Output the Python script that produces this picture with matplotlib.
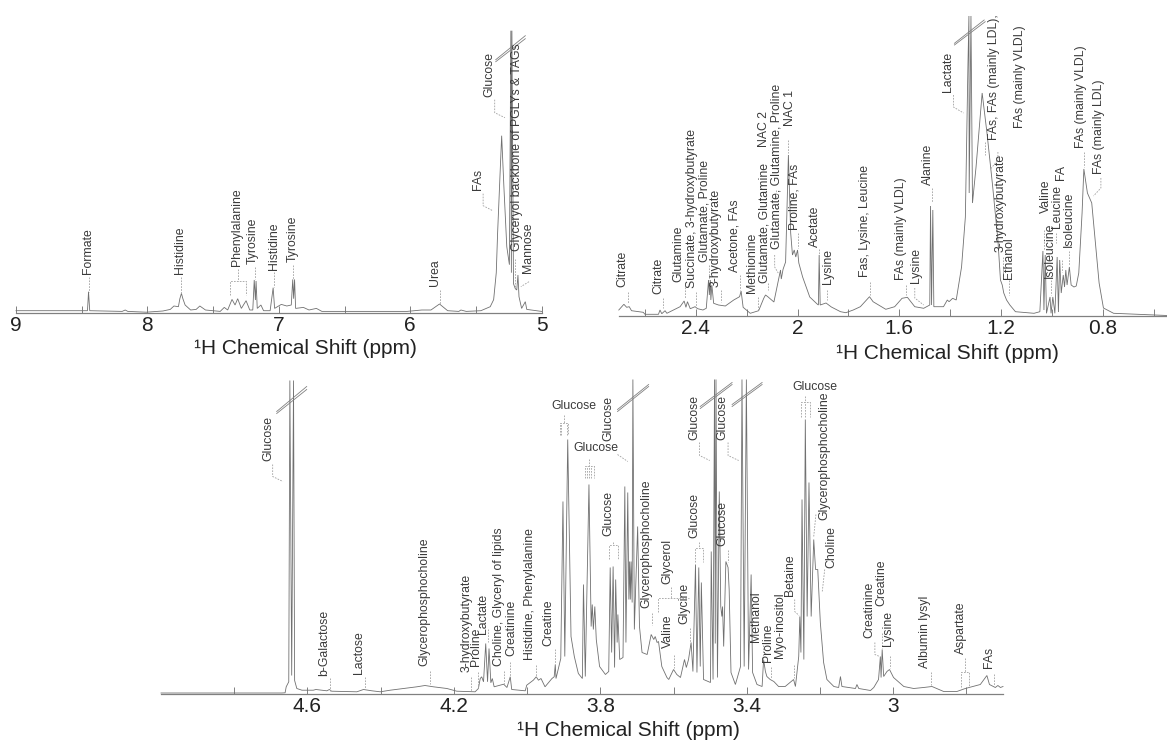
import matplotlib
matplotlib.use("Agg")
import numpy as np
import matplotlib.pyplot as plt

plt.rcParams['font.family'] = ['Liberation Sans', 'DejaVu Sans']

FIG_W, FIG_H = 1167, 740
XLABEL = "¹H Chemical Shift (ppm)"

# ---- top left panel, aromatic region ----
a_major = [9, 8, 7, 6, 5]
a_minor = [8.5, 7.5, 6.5, 5.5]
a_ticklabels = ["9", "8", "7", "6", "5"]
a_trace = [
    (9.0, 2), (8.501, 2), (8.456, 2), (8.448, 21), (8.439, 2), (8.192, 1.3), (8.169, 2.7), (8.149, 1.3),
    (8.009, 0.5), (7.882, 1.7), (7.826, 3.3), (7.798, 6.7), (7.764, 6), (7.753, 14), (7.741, 19.3), (7.73, 14),
    (7.713, 7.7), (7.671, 2.7), (7.629, 3.3), (7.601, 6.7), (7.558, 2.7), (7.446, 1.3), (7.415, 5.3), (7.389, 2.7),
    (7.356, 13.3), (7.333, 7.7), (7.313, 14), (7.285, 4.3), (7.249, 12), (7.221, 2.7), (7.198, 2.7), (7.187, 32.7),
    (7.178, 12.7), (7.173, 31.7), (7.164, 4.3), (7.136, 7.7), (7.116, 2), (7.066, 2), (7.043, 25), (7.032, 4.3),
    (6.981, 8.3), (6.939, 6.7), (6.905, 7.7), (6.894, 33.3), (6.887, 14), (6.88, 33.3), (6.872, 4.3), (6.813, 5.3),
    (6.77, 2.7), (6.714, 4.3), (6.672, 1.3), (6.024, 1.3), (5.912, 2.7), (5.842, 2.7), (5.777, 8.7), (5.715, 2),
    (5.63, 1.3), (5.614, 2.7), (5.574, 1.3), (5.462, 2), (5.391, 6), (5.365, 13), (5.345, 40), (5.335, 79),
    (5.304, 177), (5.287, 126), (5.265, 66), (5.245, 48), (5.234, 282), (5.23, 40), (5.226, 282), (5.214, 29),
    (5.2, 24), (5.189, 22.7), (5.18, 37.7), (5.172, 16), (5.152, 4.3), (5.124, 11), (5.113, 3.3), (5.0, 1.3),
]
a_labels = [
    ("Formate", 8.453, 39), ("Histidine", 7.753, 39), ("Phenylalanine", 7.319, 47), ("Tyrosine", 7.195, 49),
    ("Histidine", 7.038, 43), ("Tyrosine", 6.894, 51), ("Urea", 5.811, 27), ("FAs", 5.484, 123),
    ("Glucose", 5.397, 216), ("Glyceryol backbone of PGLYs & TAGs", 5.19, 62), ("Mannose", 5.1, 40),
]
a_leaders = [
    [(8.448, 36), (8.448, 21)], [(7.741, 36), (7.741, 19)], [(7.313, 44), (7.313, 32)],
    [(7.37, 18), (7.37, 32), (7.249, 32), (7.249, 18)], [(7.184, 46), (7.184, 34)], [(7.038, 41), (7.038, 26)],
    [(6.894, 48), (6.894, 34)], [(5.777, 23), (5.777, 9)], [(5.445, 119), (5.445, 107), (5.372, 102)],
    [(5.357, 213), (5.357, 200), (5.279, 195)], [(5.2, 54), (5.2, 26)], [(5.096, 31), (5.158, 26)],
]
a_breaks = [[(5.349, 253), (5.124, 277)], [(5.349, 251), (5.124, 274)]]

# ---- top right panel, aliphatic region ----
b_major = [2.4, 2.0, 1.6, 1.2, 0.8]
b_minor = [2.6, 2.2, 1.8, 1.4, 1.0, 0.6]
b_ticklabels = ["2.4", "2", "1.6", "1.2", "0.8"]
b_trace = [
    (2.703, 6), (2.683, 11.7), (2.672, 8.7), (2.662, 9.3), (2.653, 5.3), (2.607, 3.7), (2.6, 1.7), (2.547, 1.7),
    (2.541, 6), (2.534, 2.3), (2.521, 5.3), (2.514, 2.7), (2.488, 6), (2.462, 9.3), (2.446, 15), (2.439, 8.7),
    (2.433, 14.3), (2.422, 7.3), (2.403, 9.3), (2.393, 7.3), (2.372, 6), (2.359, 7.7), (2.35, 36), (2.347, 21),
    (2.343, 36), (2.341, 16), (2.337, 31), (2.33, 12.7), (2.311, 11), (2.284, 10), (2.251, 16), (2.228, 19.3),
    (2.222, 25), (2.214, 8.7), (2.186, 2.7), (2.153, 5.3), (2.133, 17.7), (2.126, 21), (2.117, 19.3), (2.093, 14),
    (2.067, 46), (2.064, 37), (2.057, 46.7), (2.047, 54), (2.036, 161), (2.027, 83), (2.02, 61), (2.013, 66),
    (2.007, 59), (2.0, 66), (1.995, 53), (1.98, 39), (1.952, 19), (1.923, 12), (1.918, 11), (1.915, 61),
    (1.911, 11), (1.888, 13), (1.867, 9), (1.831, 4.3), (1.81, 3.3), (1.781, 6), (1.753, 9.3), (1.717, 19.3),
    (1.703, 14.3), (1.653, 6.7), (1.618, 9.3), (1.589, 17.7), (1.568, 18.7), (1.539, 9.3), (1.504, 7.7), (1.48, 11),
    (1.477, 110), (1.473, 11), (1.468, 106), (1.464, 9.3), (1.426, 9.3), (1.411, 16), (1.404, 14.3), (1.39, 17.7),
    (1.376, 16), (1.355, 49), (1.34, 99), (1.33, 249), (1.326, 300), (1.325, 123), (1.318, 300), (1.312, 113),
    (1.298, 149), (1.274, 223), (1.255, 183), (1.234, 133), (1.212, 76), (1.202, 36), (1.195, 31), (1.189, 23),
    (1.178, 16), (1.165, 11), (1.143, 4.3), (1.07, 2.7), (1.047, 4.3), (1.035, 65), (1.031, 6), (1.026, 61),
    (1.021, 2.7), (1.007, 19), (1.003, 2.7), (0.996, 19), (0.988, 2.7), (0.979, 59), (0.974, 4), (0.969, 56),
    (0.963, 23), (0.955, 41), (0.95, 29), (0.945, 46), (0.94, 31), (0.931, 49), (0.924, 31), (0.913, 29),
    (0.904, 30), (0.894, 43), (0.881, 103), (0.874, 147), (0.86, 123), (0.843, 113), (0.814, 33), (0.797, 8),
    (0.757, 2.7), (0.547, 0.5),
]
b_labels = [
    ("Citrate", 2.689, 29), ("Citrate", 2.549, 22), ("Glutamine", 2.467, 34),
    ("Succinate, 3-hydroxybutyrate", 2.414, 28), ("Glutamate, Proline", 2.364, 54), ("3-hydroxybutyrate", 2.322, 29),
    ("Acetone, FAs", 2.248, 44), ("Methionine", 2.178, 23), ("Glutamate, Glutamine", 2.13, 33),
    ("Glutamate, Glutamine, Proline", 2.082, 67), ("NAC 2", 2.133, 169), ("NAC 1", 2.03, 190),
    ("Proline, FAs", 2.012, 86), ("Acetate", 1.932, 69), ("Lysine", 1.881, 32), ("Fas, Lysine, Leucine", 1.734, 39),
    ("FAs (mainly VLDL)", 1.594, 36), ("Lysine", 1.535, 33), ("Alanine", 1.488, 131), ("Lactate", 1.407, 224),
    ("FAs, FAs (mainly LDL),", 1.227, 176), ("FAs (mainly VLDL)", 1.127, 188), ("3-hydroxybutyrate", 1.202, 64),
    ("Ethanol", 1.167, 37), ("Isoleucine", 1.009, 38), ("Valine", 1.022, 103), ("Leucine", 0.979, 88), ("FA", 0.964, 136),
    ("Isoleucine", 0.931, 69), ("FAs (mainly VLDL)", 0.885, 168), ("FAs (mainly LDL)", 0.814, 142),
]
b_leaders = [
    [(2.666, 24), (2.666, 13)], [(2.528, 18), (2.528, 8)], [(2.444, 29), (2.444, 18)], [(2.4, 24), (2.4, 9)],
    [(2.347, 51), (2.347, 36)], [(2.302, 26), (2.302, 14)], [(2.225, 41), (2.225, 26)], [(2.154, 19), (2.154, 6)],
    [(2.118, 33), (2.118, 26)], [(2.09, 61), (2.09, 49), (2.076, 43)], [(2.083, 126), (2.083, 119)],
    [(2.037, 176), (2.037, 163)], [(2.0, 83), (2.0, 68)], [(1.915, 67), (1.915, 53)], [(1.885, 26), (1.885, 16)],
    [(1.714, 34), (1.714, 21)], [(1.575, 31), (1.575, 21)], [(1.539, 28), (1.539, 18), (1.504, 11)],
    [(1.471, 128), (1.471, 114)], [(1.387, 221), (1.387, 209), (1.347, 203)], [(1.262, 174), (1.262, 161)],
    [(1.212, 164), (1.212, 156), (1.241, 147)], [(1.191, 59), (1.191, 36)], [(1.17, 36), (1.17, 21)],
    [(1.032, 86), (1.032, 66)], [(1.002, 36), (1.002, 21)], [(0.982, 83), (0.982, 73)], [(0.959, 56), (0.959, 44)],
    [(0.931, 65), (0.931, 51)], [(0.874, 164), (0.874, 149)], [(0.807, 138), (0.807, 128), (0.836, 120)],
]
b_breaks = [[(1.383, 272.7), (1.266, 296)], [(1.383, 271), (1.262, 294.3)]]

# ---- bottom panel ----
c_major = [4.6, 4.2, 3.8, 3.4, 3.0]
c_minor = [4.8, 4.4, 4.0, 3.6, 3.2, 2.8]
c_ticklabels = ["4.6", "4.2", "3.8", "3.4", "3"]
c_trace = [
    (5.0, 0.5), (4.67, 0.5), (4.661, 0.7), (4.658, 6.7), (4.651, 11.7), (4.648, 313), (4.643, 18), (4.638, 313),
    (4.635, 13), (4.629, 5), (4.615, 3.3), (4.584, 3.3), (4.577, 4), (4.547, 2.7), (4.54, 4), (4.534, 2.3),
    (4.465, 1.7), (4.447, 4), (4.424, 2.7), (4.401, 1.7), (4.374, 3.3), (4.338, 5), (4.301, 6.7), (4.279, 8),
    (4.256, 6.7), (4.219, 5), (4.192, 2.3), (4.142, 1.7), (4.133, 5), (4.128, 15), (4.124, 16.7), (4.119, 11.7),
    (4.113, 50), (4.108, 11.7), (4.104, 45), (4.099, 10.7), (4.095, 15), (4.09, 6.7), (4.064, 9.3), (4.055, 6),
    (4.046, 16.7), (4.042, 4), (4.005, 2.7), (4.001, 8.3), (3.983, 13.3), (3.975, 16.7), (3.969, 13.3), (3.962, 15),
    (3.951, 6.7), (3.932, 15), (3.926, 16.7), (3.923, 29), (3.921, 15), (3.908, 35), (3.902, 192), (3.897, 37),
    (3.889, 254), (3.88, 57), (3.871, 37), (3.86, 20), (3.849, 15), (3.846, 109), (3.841, 17), (3.831, 209),
    (3.825, 67), (3.822, 89), (3.819, 64), (3.815, 87), (3.811, 54), (3.802, 27), (3.786, 19), (3.777, 22),
    (3.773, 126), (3.769, 41), (3.765, 127), (3.761, 26), (3.758, 114), (3.754, 51), (3.752, 79), (3.747, 34),
    (3.738, 36), (3.733, 207), (3.73, 51), (3.725, 201), (3.722, 94), (3.72, 132), (3.718, 94), (3.716, 132),
    (3.713, 91), (3.711, 314), (3.707, 64), (3.698, 167), (3.693, 67), (3.686, 41), (3.672, 39), (3.661, 59),
    (3.654, 54), (3.65, 57), (3.645, 51), (3.641, 52), (3.632, 27), (3.618, 16), (3.613, 14), (3.6, 24),
    (3.591, 19), (3.581, 16), (3.57, 34), (3.565, 26), (3.559, 34), (3.552, 51), (3.547, 22), (3.54, 129),
    (3.536, 21), (3.531, 126), (3.527, 27), (3.524, 111), (3.518, 14), (3.499, 11), (3.497, 142), (3.492, 14),
    (3.488, 314), (3.486, 50), (3.484, 314), (3.48, 16), (3.475, 202), (3.471, 87), (3.468, 77), (3.466, 87),
    (3.463, 47), (3.457, 132), (3.451, 126), (3.448, 104), (3.443, 21), (3.431, 9), (3.417, 27), (3.413, 314),
    (3.407, 27), (3.401, 314), (3.395, 24), (3.388, 119), (3.384, 21), (3.372, 9), (3.358, 7), (3.354, 34),
    (3.349, 22), (3.345, 17), (3.336, 14), (3.326, 12), (3.313, 7), (3.295, 7), (3.272, 14), (3.267, 7),
    (3.258, 37), (3.255, 77), (3.252, 41), (3.249, 194), (3.244, 34), (3.24, 274), (3.235, 77), (3.23, 211),
    (3.224, 77), (3.217, 154), (3.212, 124), (3.206, 124), (3.199, 71), (3.19, 31), (3.181, 14), (3.162, 7),
    (3.149, 6), (3.144, 17), (3.14, 7), (3.103, 5), (3.099, 9), (3.094, 5), (3.062, 3), (3.053, 6),
    (3.04, 14), (3.035, 37), (3.033, 16), (3.03, 44), (3.026, 17), (3.017, 22), (3.01, 24), (2.999, 16),
    (2.971, 7), (2.944, 5), (2.917, 6), (2.894, 7), (2.862, 2), (2.826, 2), (2.803, 5), (2.762, 9),
    (2.744, 18), (2.737, 9), (2.721, 6), (2.714, 8), (2.707, 6), (2.7, 7),
]
c_labels = [
    ("Glucose", 4.708, 233), ("b-Galactose", 4.554, 18), ("Lactose", 4.458, 19), ("Glycerophosphocholine", 4.28, 27),
    ("3-hydroxybutyrate", 4.166, 21), ("Proline", 4.139, 28), ("Lactate", 4.121, 60),
    ("Choline, Glyceryl of lipids", 4.076, 27), ("Creatinine", 4.044, 37), ("Histidine, Phenylalanine", 3.992, 33),
    ("Creatine", 3.941, 48), ("Glucose", 3.777, 253), ("Glucose", 3.777, 158), ("Glycerophosphocholine", 3.674, 85),
    ("Valine", 3.614, 45), ("Glycerol", 3.617, 110), ("Glycine", 3.57, 70), ("Glucose", 3.543, 155),
    ("Glucose", 3.542, 254), ("Glucose", 3.466, 254), ("Glucose", 3.466, 148), ("Methanol", 3.376, 51),
    ("Proline", 3.341, 32), ("Myo-inositol", 3.31, 36), ("Betaine", 3.283, 98), ("Glycerophosphocholine", 3.188, 174),
    ("Choline", 3.169, 126), ("Creatinine", 3.065, 56), ("Creatine", 3.032, 87), ("Lysine", 3.014, 47),
    ("Albumin lysyl", 2.912, 25), ("Aspartate", 2.816, 39), ("FAs", 2.737, 25),
]
# these three are written flat above the doublets
c_flat_labels = [("Glucose", 3.873, 288), ("Glucose", 3.811, 246), ("Glucose", 3.215, 307)]
c_leaders = [
    [(4.695, 229), (4.695, 217), (4.667, 212)], [(4.538, 16), (4.538, 3)], [(4.442, 17), (4.442, 5)],
    [(4.265, 23), (4.265, 10)], [(4.154, 17), (4.154, 3)], [(4.133, 22), (4.133, 5)], [(4.108, 65), (4.108, 52)],
    [(4.062, 23), (4.062, 10)], [(4.046, 32), (4.046, 18)], [(3.976, 29), (3.976, 17)], [(3.925, 45), (3.925, 30)],
    [(3.9, 279), (3.9, 271)], [(3.911, 259), (3.911, 271), (3.887, 271), (3.887, 259)],
    [(3.907, 259), (3.907, 271)], [(3.89, 259), (3.89, 271)],
    [(3.83, 235), (3.83, 228)], [(3.843, 216), (3.843, 228), (3.818, 228), (3.818, 216)],
    [(3.836, 216), (3.836, 228)], [(3.83, 216), (3.83, 228)], [(3.825, 216), (3.825, 228)],
    [(3.753, 239), (3.725, 232)], [(3.764, 152), (3.764, 149)], [(3.775, 135), (3.775, 149), (3.752, 149), (3.752, 135)],
    [(3.659, 81), (3.659, 69)], [(3.606, 107), (3.606, 96)], [(3.643, 82), (3.643, 96), (3.559, 96)],
    [(3.6, 39), (3.6, 26)], [(3.554, 66), (3.554, 52)], [(3.53, 152), (3.53, 146)],
    [(3.54, 132), (3.54, 146), (3.519, 146), (3.519, 132)], [(3.529, 251), (3.529, 238), (3.501, 233)],
    [(3.451, 251), (3.451, 238), (3.422, 233)], [(3.451, 144), (3.451, 132)], [(3.356, 49), (3.356, 34)],
    [(3.333, 27), (3.333, 16)], [(3.272, 29), (3.272, 16)], [(3.269, 94), (3.269, 82), (3.257, 78)],
    [(3.24, 298), (3.24, 292)], [(3.252, 277), (3.252, 292), (3.228, 292), (3.228, 277)], [(3.24, 277), (3.24, 292)],
    [(3.211, 179), (3.217, 157)], [(3.187, 124), (3.194, 101)], [(3.05, 51), (3.05, 39), (3.037, 37)],
    [(3.03, 61), (3.03, 46)], [(3.01, 38), (3.01, 26)], [(2.898, 22), (2.898, 9)], [(2.803, 36), (2.803, 22)],
    [(2.816, 7), (2.816, 22), (2.794, 22), (2.794, 7)], [(2.724, 20), (2.724, 9)],
]
c_breaks = [
    [(4.684, 282), (4.602, 307)], [(4.684, 280), (4.602, 304)],
    [(3.753, 284), (3.668, 309)], [(3.753, 282), (3.668, 307)],
    [(3.527, 287), (3.44, 311)], [(3.527, 285), (3.44, 309)],
    [(3.44, 289), (3.358, 311)], [(3.44, 287), (3.358, 309)],
]


def panel_axes(fig, left, right, baseline, top, x_left, x_right):
    """Axes placed by pixel box, y runs in pixels above the baseline."""
    ax = fig.add_axes([left / FIG_W, 1 - baseline / FIG_H, (right - left) / FIG_W, (baseline - top) / FIG_H])
    ax.set_xlim(x_left, x_right)
    ax.set_ylim(0, baseline - top)
    ax.patch.set_alpha(0)
    for side in ['top', 'left', 'right']:
        ax.spines[side].set_visible(False)
    ax.spines['bottom'].set_color('#808080')
    ax.spines['bottom'].set_linewidth(0.9)
    ax.set_yticks([])
    return ax


def draw_panel(ax, trace, labels, leaders, breaks, major, minor, ticklabels, xlabel_frac, xlabel_drop):
    ppm, height = np.array(trace).T
    ax.plot(ppm, height, color='#707070', lw=0.6, clip_on=False, solid_joinstyle='miter')

    for points in leaders:
        xs, ys = zip(*points)
        ax.plot(xs, ys, color='#a0a0a0', lw=0.6, ls=(0, (2, 1.5)), clip_on=False)
    for points in breaks:
        xs, ys = zip(*points)
        ax.plot(xs, ys, color='#808080', lw=0.6, clip_on=False)

    for name, x, y in labels:
        ax.text(x, y, name, rotation=90, ha='center', va='bottom', fontsize=8.8, color='#3a3a3a', clip_on=False)

    ax.set_xticks(major)
    ax.set_xticklabels(ticklabels, fontsize=15, color='#222222')
    ax.set_xticks(minor, minor=True)
    ax.tick_params(axis='x', which='both', direction='in', length=5, width=0.7, color='#808080', pad=2.5)
    ax.annotate(XLABEL, xy=(xlabel_frac, 0), xycoords='axes fraction', xytext=(0, -xlabel_drop),
                textcoords='offset pixels', ha='center', va='center', fontsize=15, color='#222222')


def main():
    fig = plt.figure(figsize=(FIG_W / 100, FIG_H / 100), dpi=100, facecolor='white')

    ax_a = panel_axes(fig, 16, 541.6, 312.7, 20, 9, 5)
    draw_panel(ax_a, a_trace, a_labels, a_leaders, a_breaks, a_major, a_minor, a_ticklabels, 0.55, 36)

    ax_b = panel_axes(fig, 618.8, 1167, 316, 10, 2.703, 0.547)
    draw_panel(ax_b, b_trace, b_labels, b_leaders, b_breaks, b_major, b_minor, b_ticklabels, 0.599, 37)

    ax_c = panel_axes(fig, 161, 1003, 693.5, 370, 5.0, 2.7)
    draw_panel(ax_c, c_trace, c_labels, c_leaders, c_breaks, c_major, c_minor, c_ticklabels, 0.555, 37)
    for name, x, y in c_flat_labels:
        ax_c.text(x, y, name, ha='center', va='center', fontsize=8.8, color='#3a3a3a', clip_on=False)

    fig.savefig('out.png', dpi=100)


if __name__ == "__main__":
    main()
